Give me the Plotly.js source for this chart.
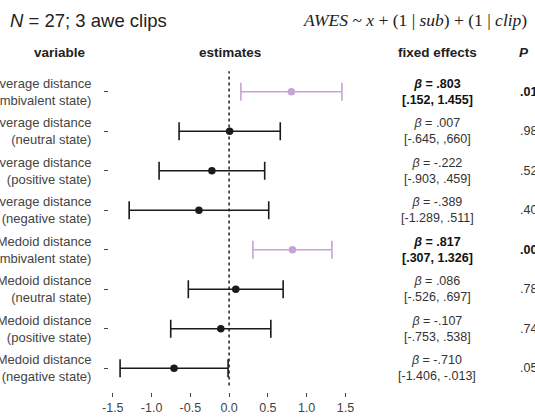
<!DOCTYPE html>
<html>
<head>
<meta charset="utf-8">
<script src="https://cdn.plot.ly/plotly-3.0.1.min.js"></script>
<style>html,body{margin:0;padding:0;background:#fff;}#chart{width:535px;height:420px;}</style>
</head>
<body>
<div id="chart"></div>
<script>
// ---- data (top row first) ----
const variables = [
  "Average distance<br>(ambivalent state)",
  "Average distance<br>(neutral state)",
  "Average distance<br>(positive state)",
  "Average distance<br>(negative state)",
  "Medoid distance<br>(ambivalent state)",
  "Medoid distance<br>(neutral state)",
  "Medoid distance<br>(positive state)",
  "Medoid distance<br>(negative state)"
];
const estimates = [0.803, 0.007, -0.222, -0.389, 0.817, 0.086, -0.107, -0.710];
const ciLower   = [0.152, -0.645, -0.903, -1.289, 0.307, -0.526, -0.753, -1.406];
const ciUpper   = [1.455, 0.660, 0.459, 0.511, 1.326, 0.697, 0.538, -0.013];
const betaText  = [".803", ".007", "-.222", "-.389", ".817", ".086", "-.107", "-.710"];
const ciText    = ["[.152, 1.455]", "[-.645, ,660]", "[-.903, .459]", "[-1.289, .511]",
                   "[.307, 1.326]", "[-.526, .697]", "[-.753, .538]", "[-1.406, -.013]"];
const pText     = [".018", ".983", ".520", ".401", ".002", ".784", ".740", ".051"];
const highlighted = [true, false, false, false, true, false, false, false];
const xTickVals = [-1.5, -1.0, -0.5, 0.0, 0.5, 1.0, 1.5];
const xTickText = ["-1.5", "-1.0", "-0.5", "0.0", "0.5", "1.0", "1.5"];

// ---- layout geometry ----
const W = 535, H = 420;
const M = {l: 109, r: 182, t: 68, b: 28};
const pw = W - M.l - M.r, ph = H - M.t - M.b;
const px2x = p => (p - M.l) / pw;
const py2y = p => (H - M.b - p) / ph;

const n = variables.length;
const rowY = variables.map((_, i) => n - i);

const BLACK = "#1a1a1a", PURPLE = "#c9a3d6";
const FONT = "Liberation Sans, Arial, Helvetica, sans-serif";

function makeTrace(flag, color, msize) {
  const idx = estimates.map((_, i) => i).filter(i => highlighted[i] === flag);
  return {
    type: "scatter", mode: "markers",
    x: idx.map(i => estimates[i]),
    y: idx.map(i => rowY[i]),
    marker: {color: color, size: msize},
    error_x: {
      type: "data", symmetric: false,
      array: idx.map(i => ciUpper[i] - estimates[i]),
      arrayminus: idx.map(i => estimates[i] - ciLower[i]),
      color: color, thickness: 1.6, width: 9
    },
    hoverinfo: "skip", showlegend: false, cliponaxis: false
  };
}

const traces = [makeTrace(false, BLACK, 7.5), makeTrace(true, PURPLE, 7.5)];

const annotations = [];
// headers
annotations.push({xref: "paper", yref: "paper", x: px2x(8), y: py2y(20), xanchor: "left", yanchor: "middle",
  text: "<i>N</i> = 27; 3 awe clips", showarrow: false, font: {family: FONT, size: 18.5, color: "#222"}});
annotations.push({xref: "paper", yref: "paper", x: px2x(415), y: py2y(20), xanchor: "center", yanchor: "middle",
  text: "<i>AWES</i> ~ <i>x</i> + (1 | <i>sub</i>) + (1 | <i>clip</i>)", showarrow: false,
  font: {family: "Liberation Serif, Times New Roman, serif", size: 17.5, color: "#222"}});
const heads = [["<b>variable</b>", 60], ["<b>estimates</b>", 230], ["<b>fixed effects</b>", 437], ["<b><i>P</i></b>", 524]];
heads.forEach(h => annotations.push({xref: "paper", yref: "paper", x: px2x(h[1]), y: py2y(52),
  xanchor: "center", yanchor: "middle", text: h[0], showarrow: false, font: {family: FONT, size: 13.5, color: "#222"}}));
// fixed effects and P columns
for (let i = 0; i < n; i++) {
  const b = highlighted[i];
  const fe = "<i>β</i> = " + betaText[i] + "<br>" + ciText[i];
  annotations.push({xref: "paper", yref: "y", x: px2x(437), y: rowY[i], xanchor: "center", yanchor: "middle",
    text: b ? "<b>" + fe + "</b>" : fe, showarrow: false, font: {family: FONT, size: 12.5, color: b ? "#111" : "#333"}});
  annotations.push({xref: "paper", yref: "y", x: px2x(518), y: rowY[i], xanchor: "left", yanchor: "middle",
    text: b ? "<b>" + pText[i] + "</b>" : pText[i], showarrow: false, font: {family: FONT, size: 12.5, color: b ? "#111" : "#333"}});
}

const layout = {
  width: W, height: H, margin: M,
  paper_bgcolor: "#fff", plot_bgcolor: "#fff",
  font: {family: FONT},
  xaxis: {
    range: [-1.549, 1.598], showgrid: false, zeroline: false, showline: false,
    tickmode: "array", tickvals: xTickVals, ticktext: xTickText,
    ticks: "outside", ticklen: 4, tickwidth: 1, tickcolor: "#444",
    tickfont: {family: FONT, size: 12.5, color: "#444"}
  },
  yaxis: {
    range: [0.4, n + 0.6], showgrid: false, zeroline: false, showline: false,
    tickmode: "array", tickvals: rowY, ticktext: variables,
    ticks: "outside", ticklen: 4, tickwidth: 1, tickcolor: "#444",
    ticklabelstandoff: 10,
    tickfont: {family: FONT, size: 13, color: "#444"}
  },
  shapes: [{type: "line", xref: "x", yref: "paper", x0: 0, x1: 0, y0: 0.02, y1: 0.99,
    line: {color: "#222", width: 1.5, dash: "dot"}}],
  annotations: annotations
};

Plotly.newPlot("chart", traces, layout, {staticPlot: true, displayModeBar: false});
</script>
</body>
</html>
